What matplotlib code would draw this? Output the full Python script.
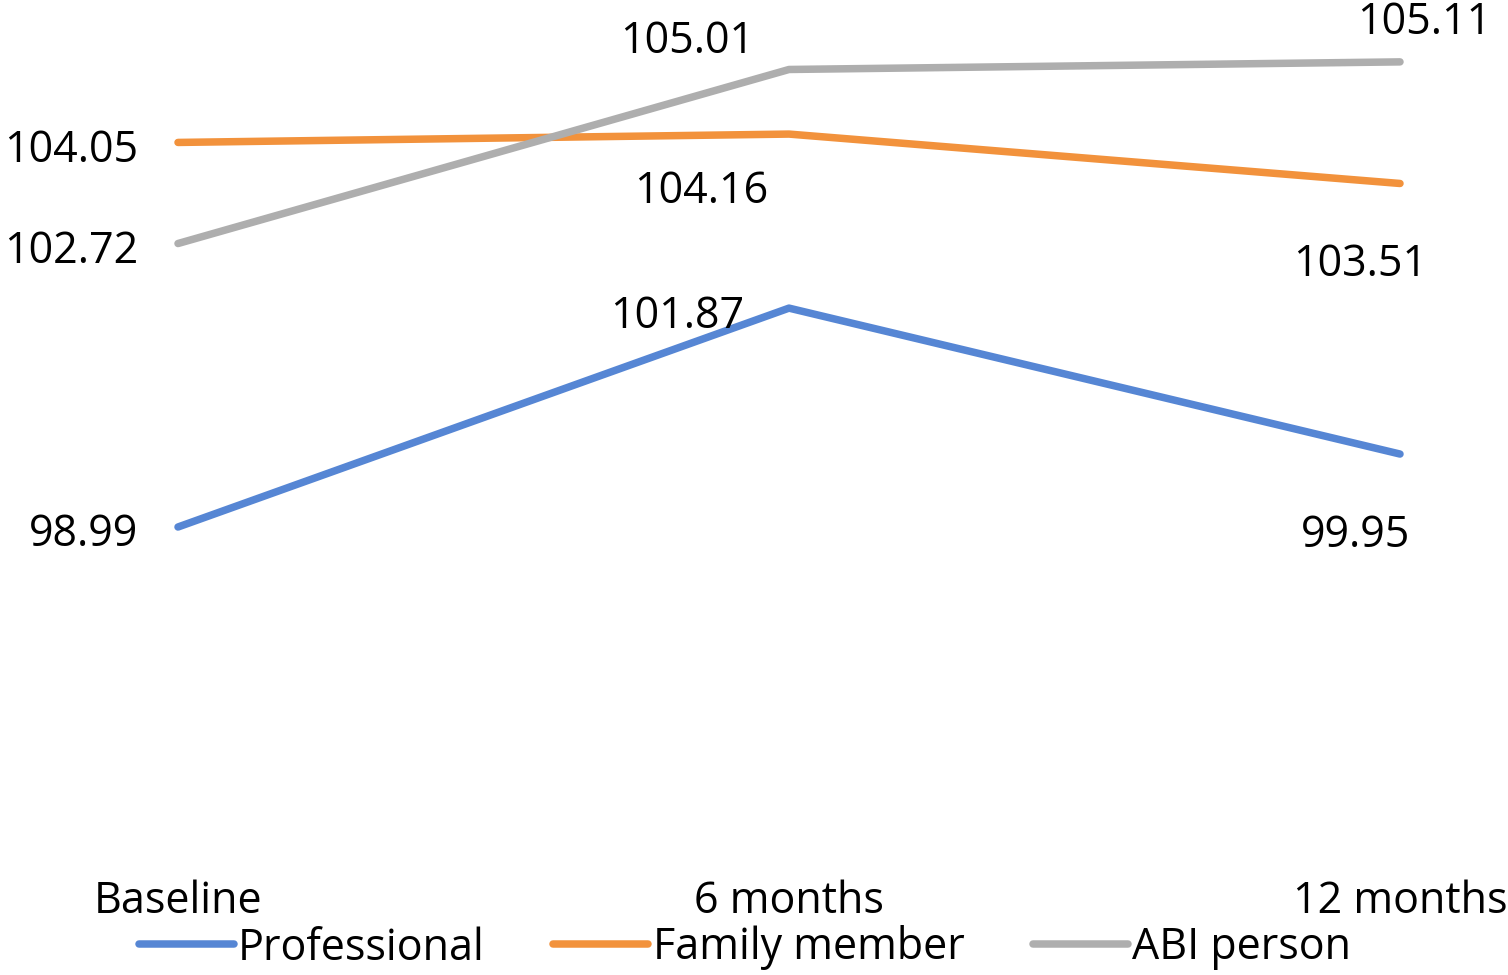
import matplotlib.pyplot as plt

categories = ['Baseline', '6 months', '12 months']
professional = [98.99, 101.87, 99.95]
family = [104.05, 104.16, 103.51]
abi = [102.72, 105.01, 105.11]

plt.rcParams['font.family'] = ['Open Sans', 'DejaVu Sans']

W, H = 1508, 975
fig = plt.figure(figsize=(W / 100, H / 100), dpi=100)
# axes spans the full width and from top down to y=870 px
ax = fig.add_axes([0, 1 - 870 / H, 1, 870 / H])

x = [0, 1, 2]
series = [
    ('Professional', professional, '#5686D4',
     [(-40, -8, 'right', 'center'), (-112, -9, 'center', 'center'), (-44, -82, 'center', 'center')]),
    ('Family member', family, '#F2923C',
     [(-40, -8, 'right', 'center'), (-88, -58, 'center', 'center'), (-40, -81, 'center', 'center')]),
    ('ABI person', abi, '#AEAEAE',
     [(-40, -8, 'right', 'center'), (-102, 28, 'center', 'center'), (24, 39, 'center', 'center')]),
]

for name, vals, col, offs in series:
    ax.plot(x, vals, color=col, lw=5.4, label=name, solid_capstyle='round')
    for xi, v, (dx, dy, ha, va) in zip(x, vals, offs):
        ax.annotate(f'{v:.2f}', (xi, v), xytext=(dx, dy), textcoords='offset pixels',
                    ha=ha, va=va, fontsize=31, color='black')

# pixel-matched limits
unit_x = 611
ax.set_xlim(-178 / unit_x, (W - 178) / unit_x)
unit_y = 76
ax.set_ylim(98.99 - (870 - 527) / unit_y, 98.99 + 527 / unit_y)

ax.set_xticks(x)
ax.set_xticklabels(categories, fontsize=31)
ax.tick_params(axis='x', length=0, pad=7)
ax.set_yticks([])
for s in ax.spines.values():
    s.set_visible(False)

fig.legend(loc='center', bbox_to_anchor=(745 / W, 1 - 948 / H), ncol=3, frameon=False,
           fontsize=31, handlelength=2.2, handletextpad=0.1, columnspacing=1.6,
           borderpad=0, borderaxespad=0)

fig.savefig('out.png', dpi=100)
